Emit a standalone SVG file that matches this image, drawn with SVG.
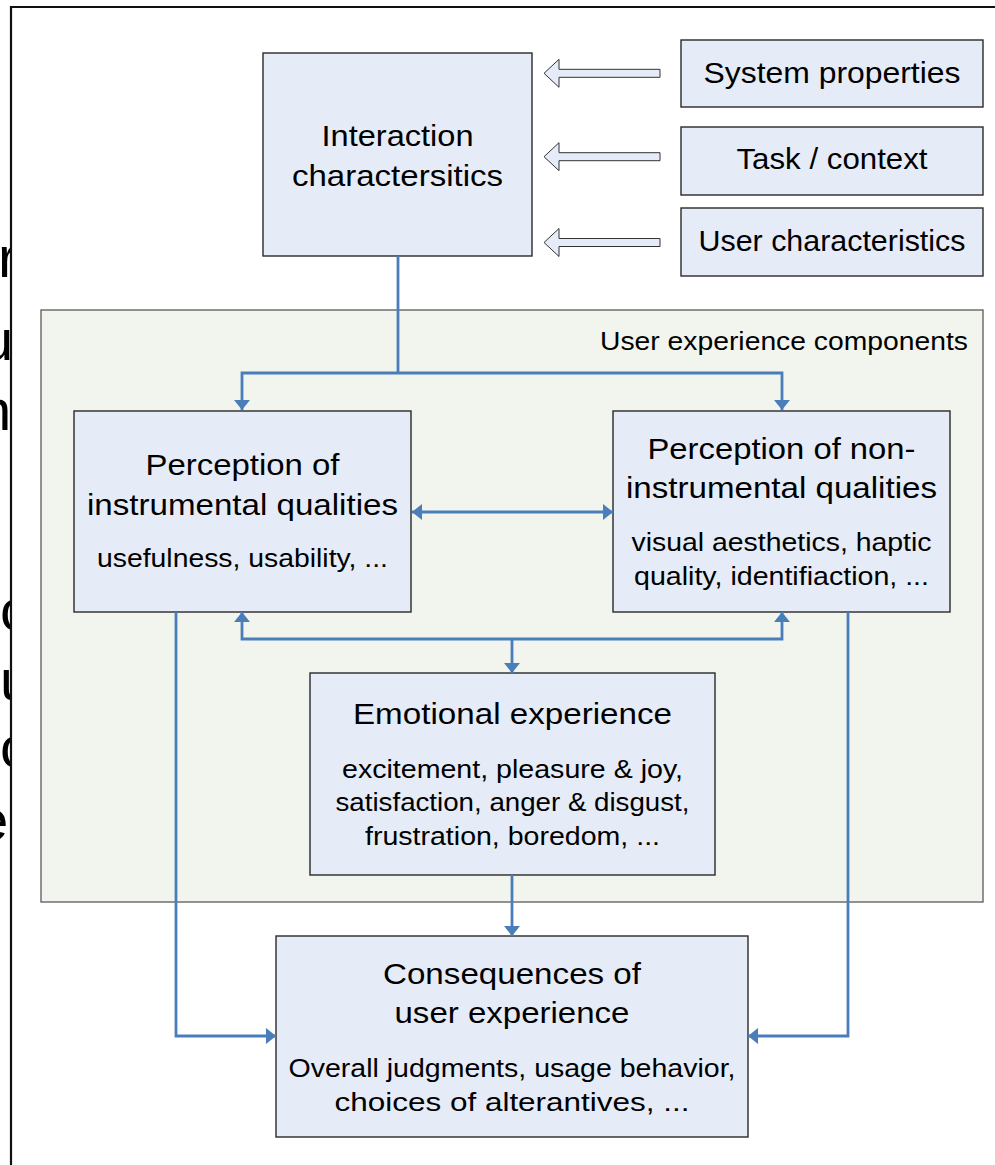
<svg xmlns="http://www.w3.org/2000/svg" width="995" height="1165" viewBox="0 0 995 1165">
<style>
.box{fill:#e6ecf7;stroke:#2a2a2a;stroke-width:1.4}
.cont{fill:#f2f5ee;stroke:#666;stroke-width:1.4}
.t{font-family:"Liberation Sans",Arial,sans-serif;fill:#000;text-anchor:middle}
.m{font-size:30px}
.s{font-size:26px}
.con{fill:none;stroke:#4a7ebb;stroke-width:2.8}
.blk{fill:#e6ecf7;stroke:#333;stroke-width:1}
.frag{font-family:"Liberation Sans",Arial,sans-serif;font-size:58px;fill:#000}
</style>
<defs>
<marker id="ah" markerWidth="10" markerHeight="16" refX="10" refY="8" orient="auto-start-reverse" markerUnits="userSpaceOnUse">
<path d="M0,0 L10,8 L0,16 z" fill="#4a7ebb"/>
</marker>
<clipPath id="leftclip"><rect x="0" y="0" width="10" height="1165"/></clipPath>
</defs>
<rect x="0" y="0" width="995" height="1165" fill="#fff"/>
<g id="fragments" clip-path="url(#leftclip)">
<text class="frag" x="-2" y="277">r</text>
<text class="frag" x="-19" y="360">u</text>
<text class="frag" x="-21" y="430">n</text>
<text class="frag" x="0" y="630">c</text>
<text class="frag" x="0" y="700">u</text>
<text class="frag" x="0" y="767">c</text>
<text class="frag" x="-24" y="840">e</text>
</g>
<path id="frame" d="M11,1165 V7 H995" fill="none" stroke="#111" stroke-width="2.2"/>
<g id="ux-components">
<rect class="cont" x="41" y="310" width="942" height="592"/>
<text class="t s" x="968" y="350" style="text-anchor:end" textLength="368" lengthAdjust="spacingAndGlyphs">User experience components</text>
</g>
<g id="interaction">
<rect class="box" x="263" y="53" width="269" height="203"/>
<text class="t m" x="397.5" y="146" textLength="152" lengthAdjust="spacingAndGlyphs">Interaction</text>
<text class="t m" x="397.5" y="186" textLength="211" lengthAdjust="spacingAndGlyphs">charactersitics</text>
</g>
<g id="system-properties">
<rect class="box" x="681" y="40" width="302" height="67"/>
<text class="t m" x="832" y="83" textLength="257" lengthAdjust="spacingAndGlyphs">System properties</text>
</g>
<g id="task-context">
<rect class="box" x="681" y="127" width="302" height="68"/>
<text class="t m" x="832" y="169" textLength="191" lengthAdjust="spacingAndGlyphs">Task / context</text>
</g>
<g id="user-characteristics">
<rect class="box" x="681" y="208" width="302" height="68"/>
<text class="t m" x="832" y="251" textLength="267" lengthAdjust="spacingAndGlyphs">User characteristics</text>
</g>
<g id="block-arrows">
<path class="blk" d="M544,73.3 L559,59.3 L559,69.3 L660,69.3 L660,77.3 L559,77.3 L559,87.3 Z"/>
<path class="blk" d="M544,156.7 L559,142.7 L559,152.7 L660,152.7 L660,160.7 L559,160.7 L559,170.7 Z"/>
<path class="blk" d="M544,242.5 L559,228.5 L559,238.5 L660,238.5 L660,246.5 L559,246.5 L559,256.5 Z"/>
</g>
<g id="instrumental">
<rect class="box" x="74" y="411" width="337" height="201"/>
<text class="t m" x="242.5" y="475" textLength="194" lengthAdjust="spacingAndGlyphs">Perception of</text>
<text class="t m" x="242.5" y="515" textLength="311" lengthAdjust="spacingAndGlyphs">instrumental qualities</text>
<text class="t s" x="242.5" y="567" textLength="291" lengthAdjust="spacingAndGlyphs">usefulness, usability, ...</text>
</g>
<g id="non-instrumental">
<rect class="box" x="613" y="411" width="337" height="201"/>
<text class="t m" x="781.5" y="459" textLength="268" lengthAdjust="spacingAndGlyphs">Perception of non-</text>
<text class="t m" x="781.5" y="498" textLength="311" lengthAdjust="spacingAndGlyphs">instrumental qualities</text>
<text class="t s" x="781.5" y="551" textLength="300" lengthAdjust="spacingAndGlyphs">visual aesthetics, haptic</text>
<text class="t s" x="781.5" y="585" textLength="295" lengthAdjust="spacingAndGlyphs">quality, identifiaction, ...</text>
</g>
<g id="emotional">
<rect class="box" x="310" y="673" width="405" height="202"/>
<text class="t m" x="512.5" y="724" textLength="319" lengthAdjust="spacingAndGlyphs">Emotional experience</text>
<text class="t s" x="512.5" y="778" textLength="341" lengthAdjust="spacingAndGlyphs">excitement, pleasure &amp; joy,</text>
<text class="t s" x="512.5" y="811" textLength="354" lengthAdjust="spacingAndGlyphs">satisfaction, anger &amp; disgust,</text>
<text class="t s" x="512.5" y="845" textLength="295" lengthAdjust="spacingAndGlyphs">frustration, boredom, ...</text>
</g>
<g id="consequences">
<rect class="box" x="276" y="936" width="472" height="201"/>
<text class="t m" x="512" y="984" textLength="258" lengthAdjust="spacingAndGlyphs">Consequences of</text>
<text class="t m" x="512" y="1023" textLength="235" lengthAdjust="spacingAndGlyphs">user experience</text>
<text class="t s" x="512" y="1077" textLength="447" lengthAdjust="spacingAndGlyphs">Overall judgments, usage behavior,</text>
<text class="t s" x="512" y="1111" textLength="355" lengthAdjust="spacingAndGlyphs">choices of alterantives, ...</text>
</g>
<g id="connectors">
<path class="con" d="M398,256 V373"/>
<path class="con" d="M398,373 H242 V410" marker-end="url(#ah)"/>
<path class="con" d="M398,373 H782 V410" marker-end="url(#ah)"/>
<path class="con" d="M412,512 H613" marker-start="url(#ah)" marker-end="url(#ah)"/>
<path class="con" d="M512,639 H242 V612" marker-end="url(#ah)"/>
<path class="con" d="M512,639 H782 V612" marker-end="url(#ah)"/>
<path class="con" d="M512,639 V673" marker-end="url(#ah)"/>
<path class="con" d="M512,875 V936" marker-end="url(#ah)"/>
<path class="con" d="M176,612 V1036 H276" marker-end="url(#ah)"/>
<path class="con" d="M848,612 V1036 H748" marker-end="url(#ah)"/>
</g>
</svg>
